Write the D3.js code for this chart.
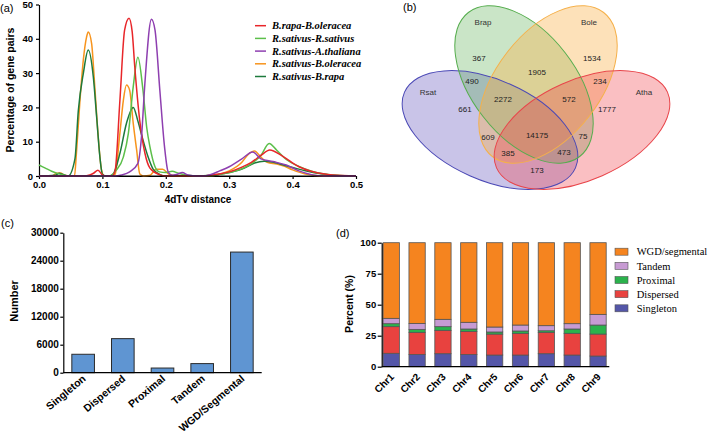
<!DOCTYPE html>
<html><head><meta charset="utf-8">
<script src="https://cdn.jsdelivr.net/npm/d3@7"></script>
<style>
body{margin:0;background:#fff}
svg{display:block}
</style>
</head><body>
<svg id="chart" width="709" height="436" font-family="'Liberation Sans',Arial,sans-serif"></svg>
<script>
// ================= DATA =================
const seriesNames = ["B.rapa-B.oleracea","R.sativus-R.sativus","R.sativus-A.thaliana","R.sativus-B.oleracea","R.sativus-B.rapa"];
const rapaOleracea = [[0,0],[0.07,0],[0.08,0.3],[0.086,0.8],[0.093,1.7],[0.1,0.3],[0.105,0],[0.115,0],[0.12,1.5],[0.1276,22],[0.135,42.5],[0.142,46],[0.147,42],[0.151,32],[0.159,16],[0.167,6.7],[0.175,2.3],[0.19,0.4],[0.2,0],[0.26,0],[0.28,0.5],[0.3,1.2],[0.32,2.6],[0.335,4],[0.35,6],[0.364,7.6],[0.384,5.8],[0.41,2.7],[0.437,1],[0.463,0.3],[0.5,0]];
const sativusSativus = [[0,3.2],[0.01,2.3],[0.02,1.4],[0.03,0.7],[0.04,0.2],[0.045,0],[0.11,0],[0.122,1.7],[0.133,5.5],[0.141,12.5],[0.1486,26],[0.156,34.6],[0.164,25],[0.170,14],[0.175,8.5],[0.183,2.7],[0.19,1.2],[0.2,1],[0.21,1.4],[0.22,0.8],[0.235,0.2],[0.25,0],[0.27,0.2],[0.3,1],[0.33,3],[0.35,6],[0.363,9.5],[0.375,7.5],[0.39,4.8],[0.41,2.8],[0.43,1.4],[0.45,0.6],[0.47,0.2],[0.5,0]];
const sativusThaliana = [[0,0],[0.12,0],[0.13,0.3],[0.143,1.2],[0.156,3.7],[0.1617,11.5],[0.167,27],[0.1774,45.7],[0.183,42.5],[0.1906,25],[0.198,8.5],[0.2037,1.2],[0.21,0.2],[0.218,0.5],[0.226,1],[0.235,0.3],[0.25,0],[0.26,0],[0.27,0.4],[0.285,1.5],[0.3,2.7],[0.32,5],[0.337,7],[0.35,5],[0.369,4.2],[0.39,3.2],[0.41,1.5],[0.43,0.4],[0.45,0],[0.5,0]];
const sativusOleracea = [[0,0],[0.02,0],[0.028,0.8],[0.034,0.9],[0.04,0.2],[0.05,0],[0.056,0],[0.059,6.6],[0.0646,22],[0.070,34],[0.075,40.5],[0.0777,42],[0.083,38.6],[0.088,26],[0.093,12.5],[0.0987,1.7],[0.103,0],[0.115,0],[0.12,0.5],[0.1276,12.5],[0.133,22],[0.138,26.5],[0.143,25],[0.1486,15.4],[0.154,7.6],[0.159,0.6],[0.165,0],[0.175,0.2],[0.185,2],[0.195,2],[0.205,0.5],[0.22,0],[0.27,0],[0.29,0.8],[0.3,1.5],[0.32,4],[0.33,6.3],[0.34,7.3],[0.35,5.5],[0.36,4],[0.375,3.5],[0.385,3],[0.4,1.8],[0.42,0.6],[0.45,0],[0.5,0]];
const sativusRapa = [[0,0],[0.025,0.2],[0.032,0.8],[0.037,0.5],[0.046,0],[0.0567,5],[0.062,19],[0.070,30],[0.0777,36.7],[0.0856,29],[0.091,17],[0.096,5.6],[0.1,0.5],[0.105,0],[0.11,0],[0.117,0.6],[0.1276,6.6],[0.138,15.4],[0.1486,20],[0.156,16],[0.164,10.5],[0.172,5.6],[0.18,2],[0.19,0.5],[0.2,0],[0.27,0],[0.28,0.3],[0.3,1],[0.32,2],[0.34,3.8],[0.355,4.3],[0.37,4],[0.38,3.5],[0.4,2.5],[0.42,1.5],[0.45,0.5],[0.48,0],[0.5,0]];
const xTicksA = [0,0.1,0.2,0.3,0.4,0.5];
const yTicksA = [0,10,20,30,40,50];

const vennSets = ["Brap","Bole","Rsat","Atha"];
const vennRegions = ["Brap only","Bole only","Brap&Bole","Rsat&Brap","Bole&Atha","Rsat&Brap&Bole","Brap&Bole&Atha","Rsat only","Atha only","all four","Rsat&Bole&Atha","Rsat&Brap&Atha","Rsat&Bole","Brap&Atha","Rsat&Atha"];
const vennCounts = [367,1534,1905,490,234,2272,572,661,1777,14175,609,75,385,473,173];

const dupTypes = ["Singleton","Dispersed","Proximal","Tandem","WGD/Segmental"];
const dupCounts = [3950,7300,1000,1950,25850];
const yTicksC = [0,6000,12000,18000,24000,30000];

const chroms = ["Chr1","Chr2","Chr3","Chr4","Chr5","Chr6","Chr7","Chr8","Chr9"];
const stackKeys = ["Singleton","Dispersed","Proximal","Tandem","WGD/segmental"];
const pctSingleton = [10.8,9.9,10.5,9.9,9.4,9.4,10.5,9.4,8.6];
const pctDispersed = [21.5,17.8,18.8,18.6,16.9,17.5,17.2,17.5,17.7];
const pctProximal  = [2.4,2.4,3.0,1.9,1.7,1.9,1.3,3.5,7.3];
const pctTandem    = [4.3,4.8,5.9,5.4,4.0,4.8,4.1,4.3,8.6];
const pctWGD       = [61.0,65.1,61.8,64.2,68.0,66.4,66.9,65.3,57.8];
const yTicksD = [0,25,50,75,100];

// ================= STYLE / LAYOUT =================
const SANS = "'Liberation Sans',Arial,sans-serif";
const SERIF = "'Liberation Serif','Times New Roman',serif";
const lineColors = ["#e8262a","#5cbf4a","#8e3fb0","#f7941d","#1d7a3c"];
const stackColors = ["#5456a8","#e8423f","#2bb24c","#c79bd3","#f5841f"];
const svg = d3.select("#chart");
svg.append("rect").attr("width",709).attr("height",436).attr("fill","#fff");

function styleAxis(g, size){
  g.attr("font-family",SANS);
  g.selectAll("path,line").attr("stroke","#000").attr("stroke-width",1.2);
  g.selectAll("text").attr("font-size",size).attr("font-weight","bold").attr("fill","#000");
}
function rotLabel(g, px, py, txt, size, ang){
  g.append("text").attr("transform",`translate(${px},${py}) rotate(${ang})`)
    .attr("text-anchor","end").attr("dy","0.35em")
    .attr("font-size",size).attr("font-weight","bold").text(txt);
}

// ---------- Panel (a) ----------
{
  const x = d3.scaleLinear().domain([0,0.5]).range([39,356]);
  const y = d3.scaleLinear().domain([0,50]).range([176,4.5]);
  const g = svg.append("g");
  const gx = g.append("g").attr("transform","translate(0,176)")
    .call(d3.axisBottom(x).tickValues(xTicksA).tickFormat(d3.format(".1f")).tickSize(3).tickPadding(2).tickSizeOuter(0));
  styleAxis(gx,"9.5px");
  const gy = g.append("g").attr("transform","translate(39,0)")
    .call(d3.axisLeft(y).tickValues(yTicksA).tickSize(3).tickPadding(3).tickSizeOuter(0));
  styleAxis(gy,"9.5px");
  const line = d3.line().x(d=>x(d[0])).y(d=>y(d[1])).curve(d3.curveMonotoneX);
  const all = [rapaOleracea,sativusSativus,sativusThaliana,sativusOleracea,sativusRapa];
  [3,4,1,0,2].forEach(i=>{
    g.append("path").datum(all[i]).attr("d",line).attr("fill","none")
      .attr("stroke",lineColors[i]).attr("stroke-width",1.5).attr("stroke-linejoin","round");
  });
  g.append("line").attr("x1",39).attr("x2",356).attr("y1",176).attr("y2",176).attr("stroke","#000").attr("stroke-width",1.2);
  g.append("text").attr("transform","translate(10,90) rotate(-90)").attr("text-anchor","middle")
    .attr("dy","0.35em").attr("font-size","10.5px").attr("font-weight","bold").text("Percentage of gene pairs");
  g.append("text").attr("x",198).attr("y",203).attr("text-anchor","middle")
    .attr("font-size","10px").attr("font-weight","bold").text("4dTv distance");
  g.append("text").attr("x",0).attr("y",12).attr("font-size","11px").text("(a)");
  const leg = g.append("g");
  seriesNames.forEach((n,i)=>{
    const yy = 25.7 + i*12.7;
    leg.append("line").attr("x1",255).attr("x2",266).attr("y1",yy).attr("y2",yy)
      .attr("stroke",lineColors[i]).attr("stroke-width",1.5);
    leg.append("text").attr("x",272).attr("y",yy).attr("dy","0.35em")
      .attr("font-family",SERIF).attr("font-style","italic")
      .attr("font-weight","bold").attr("font-size","10.5px").text(n);
  });
}

// ---------- Panel (b) ----------
{
  const g = svg.append("g");
  const ellipses = [
    {set:"Rsat", cx:490, cy:130, rx:93.5, ry:50, rot:23.9, fill:"rgb(75,60,180)", op:0.3, stroke:"#4a48b5"},
    {set:"Brap", cx:524, cy:84.5, rx:91, ry:52, rot:52.3, fill:"rgb(80,170,70)", op:0.3, stroke:"#56ad4e"},
    {set:"Bole", cx:548, cy:84.5, rx:91, ry:52, rot:-52.3, fill:"rgb(250,175,70)", op:0.38, stroke:"#f5b04a"},
    {set:"Atha", cx:582, cy:130, rx:93.5, ry:50, rot:-23.9, fill:"rgb(240,60,70)", op:0.33, stroke:"#e8454a"}
  ];
  ellipses.forEach(e=>{
    g.append("ellipse").attr("transform",`translate(${e.cx},${e.cy}) rotate(${e.rot})`)
      .attr("rx",e.rx).attr("ry",e.ry).attr("fill",e.fill).attr("fill-opacity",e.op).attr("stroke","none");
  });
  ellipses.forEach(e=>{
    g.append("ellipse").attr("transform",`translate(${e.cx},${e.cy}) rotate(${e.rot})`)
      .attr("rx",e.rx).attr("ry",e.ry).attr("fill","none").attr("stroke",e.stroke).attr("stroke-width",1);
  });
  const setLabelPos = {Brap:[483,22],Bole:[589,22],Rsat:[428,92],Atha:[644,92]};
  vennSets.forEach(s=>{
    g.append("text").attr("x",setLabelPos[s][0]).attr("y",setLabelPos[s][1]).attr("text-anchor","middle")
      .attr("dy","0.35em").attr("font-size","8px").attr("fill","#333").text(s);
  });
  const regionPos = [[479,58],[592,58],[537,72],[472,81],[600,81],[503,99],[569,99],[465,109],[607,109],[537,135],[488,137],[583,136],[508,153],[564,152],[537,170]];
  vennCounts.forEach((c,i)=>{
    g.append("text").attr("x",regionPos[i][0]).attr("y",regionPos[i][1]).attr("text-anchor","middle")
      .attr("dy","0.35em").attr("font-size","8px").attr("fill","#222").text(c);
  });
  g.append("text").attr("x",403).attr("y",11).attr("font-size","11px").text("(b)");
}

// ---------- Panel (c) ----------
{
  const x = d3.scaleBand().domain(dupTypes).range([63.3,261.7]).paddingInner(0.43).paddingOuter(0.215);
  const y = d3.scaleLinear().domain([0,30000]).range([372.7,232.7]);
  const g = svg.append("g");
  g.selectAll("rect.bar").data(dupTypes).join("rect").attr("class","bar")
    .attr("x",d=>x(d)).attr("width",x.bandwidth())
    .attr("y",(d,i)=>y(dupCounts[i])).attr("height",(d,i)=>y(0)-y(dupCounts[i]))
    .attr("fill","#5f95d2").attr("stroke","#2b2b2b").attr("stroke-width",1);
  const gy = g.append("g").attr("transform","translate(63.3,0)")
    .call(d3.axisLeft(y).tickValues(yTicksC).tickFormat(d3.format("d")).tickSize(3).tickPadding(1.5).tickSizeOuter(0));
  styleAxis(gy,"10px");
  g.append("line").attr("x1",63.3).attr("x2",261.7).attr("y1",372.7).attr("y2",372.7)
    .attr("stroke","#000").attr("stroke-width",1.2);
  dupTypes.forEach(d=>rotLabel(g, x(d)+x.bandwidth()/2+1, 377, d, "10.5px", -40));
  g.append("text").attr("transform","translate(14,301) rotate(-90)").attr("text-anchor","middle")
    .attr("dy","0.35em").attr("font-size","11px").attr("font-weight","bold").text("Number");
  g.append("text").attr("x",1).attr("y",227).attr("font-size","11px").text("(c)");
}

// ---------- Panel (d) ----------
{
  const x = d3.scaleBand().domain(chroms).range([380,609.3]).paddingInner(0.37).paddingOuter(0.12);
  const y = d3.scaleLinear().domain([0,100]).range([366.7,242.7]);
  const rows = chroms.map((c,i)=>({chr:c,"Singleton":pctSingleton[i],"Dispersed":pctDispersed[i],
    "Proximal":pctProximal[i],"Tandem":pctTandem[i],"WGD/segmental":pctWGD[i]}));
  const stacked = d3.stack().keys(stackKeys)(rows);
  const g = svg.append("g");
  stacked.forEach((layer,k)=>{
    g.selectAll(null).data(layer).join("rect")
      .attr("x",d=>x(d.data.chr)).attr("width",x.bandwidth())
      .attr("y",d=>y(Math.min(d[1],100))).attr("height",d=>y(d[0])-y(Math.min(d[1],100)))
      .attr("fill",stackColors[k]).attr("stroke","#555").attr("stroke-width",0.8);
  });
  const gy = g.append("g").attr("transform","translate(381.7,0)")
    .call(d3.axisLeft(y).tickValues(yTicksD).tickSize(4).tickPadding(1.5).tickSizeOuter(0));
  styleAxis(gy,"9.5px");
  g.append("line").attr("x1",381.7).attr("x2",609.3).attr("y1",366.7).attr("y2",366.7)
    .attr("stroke","#000").attr("stroke-width",1.2);
  chroms.forEach(c=>rotLabel(g, x(c)+x.bandwidth()/2+1, 375, c, "10px", -45));
  g.append("text").attr("transform","translate(349,304) rotate(-90)").attr("text-anchor","middle")
    .attr("dy","0.35em").attr("font-size","10.5px").attr("font-weight","bold").text("Percent (%)");
  g.append("text").attr("x",336).attr("y",237).attr("font-size","11px").text("(d)");
  const legOrder = [4,3,2,1,0];
  legOrder.forEach((k,i)=>{
    const yy = 251.7 + i*14.15;
    g.append("rect").attr("x",615).attr("y",yy-3.5).attr("width",13).attr("height",7)
      .attr("fill",stackColors[k]).attr("stroke","#555").attr("stroke-width",0.6);
    g.append("text").attr("x",636.7).attr("y",yy).attr("dy","0.35em")
      .attr("font-family",SERIF).attr("font-size","10.5px").text(stackKeys[k]);
  });
}
</script>
</body></html>
